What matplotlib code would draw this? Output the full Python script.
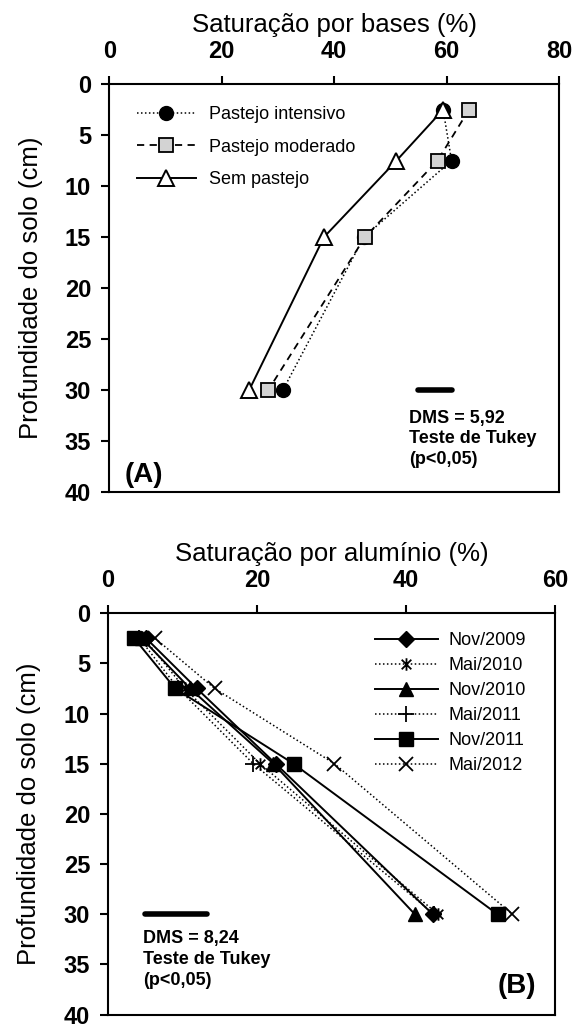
import numpy as np
import matplotlib
matplotlib.use('Agg')
from matplotlib import pyplot as plt
from matplotlib.path import Path

plt.rcParams['font.family'] = ['Liberation Sans', 'DejaVu Sans']

# profundidade (cm)
depth = [2.5, 7.5, 15, 30]

# (A) saturacao por bases (%)
bases_intensivo = [59.4, 60.9, 45.3, 30.9]
bases_moderado = [64.0, 58.4, 45.5, 28.3]
bases_sem = [59.4, 51.1, 38.2, 24.9]
dms_a = 5.92

# (B) saturacao por aluminio (%)
alum_labels = ['Nov/2009', 'Mai/2010', 'Nov/2010', 'Mai/2011', 'Nov/2011', 'Mai/2012']
al_nov2009 = [5.1, 11.9, 22.5, 43.6]
al_mai2010 = [4.8, 10.3, 20.4, 44.3]
al_nov2010 = [4.5, 11.0, 22.2, 41.2]
al_mai2011 = [4.2, 9.4, 19.5, 43.8]
al_nov2011 = [3.5, 9.0, 24.9, 52.3]
al_mai2012 = [6.3, 14.3, 30.4, 54.3]
dms_b = 8.24

yticks = np.arange(0, 45, 5)

# asterisco estilo Excel
star = Path([(-1, -1), (1, 1), (-1, 1), (1, -1), (0, -1.3), (0, 1.3)],
            [Path.MOVETO, Path.LINETO, Path.MOVETO, Path.LINETO, Path.MOVETO, Path.LINETO])

dot = (0, (1, 1.6))

fig = plt.figure(figsize=(5.78, 10.27), dpi=100)
ax1 = fig.add_axes([0.189, 0.521, 0.778, 0.397])
ax2 = fig.add_axes([0.187, 0.012, 0.773, 0.391])


def style_axis(ax, xmax, xstep, xlabel):
    ax.set_xlim(0, xmax)
    ax.set_ylim(40, 0)
    ax.set_xticks(np.arange(0, xmax + 1, xstep))
    ax.set_yticks(yticks)
    ax.xaxis.tick_top()
    ax.xaxis.set_label_position('top')
    ax.tick_params(direction='out', length=6, width=1.5, labelsize=17, pad=7)
    ax.tick_params(axis='x', pad=9)
    for lab in ax.get_xticklabels() + ax.get_yticklabels():
        lab.set_fontweight('bold')
    for s in ax.spines.values():
        s.set_linewidth(1.5)
    ax.set_xlabel(xlabel, fontsize=18.5, labelpad=6)
    ax.set_ylabel('Profundidade do solo (cm)', fontsize=18.5, labelpad=16)


# ---------- (A)
ax1.plot(bases_intensivo, depth, linestyle=dot, color='black', lw=1.1,
         marker='o', ms=10, mfc='black', mec='black', label='Pastejo intensivo')
ax1.plot(bases_moderado, depth, linestyle=(0, (4, 3)), color='black', lw=1.3,
         marker='s', ms=10, mfc='#d3d3d3', mec='black', mew=1.3, label='Pastejo moderado')
ax1.plot(bases_sem, depth, linestyle='-', color='black', lw=1.4,
         marker='^', ms=11.5, mfc='white', mec='black', mew=1.4, label='Sem pastejo')
style_axis(ax1, 80, 20, 'Saturação por bases (%)')
ax1.legend(loc='upper left', bbox_to_anchor=(0.061, 0.946), frameon=False,
           fontsize=13, handlelength=3.3, handletextpad=0.7, labelspacing=0.85,
           borderpad=0, borderaxespad=0)
ax1.plot([55, 55 + dms_a], [30, 30], color='black', lw=4, solid_capstyle='round')
ax1.text(53.4, 34.8, 'DMS = 5,92\nTeste de Tukey\n(p<0,05)', fontsize=13,
         fontweight='bold', ha='left', va='center', linespacing=1.3)
ax1.text(2.8, 38.3, '(A)', fontsize=20, fontweight='bold', ha='left', va='center')

# ---------- (B)
series = [al_nov2009, al_mai2010, al_nov2010, al_mai2011, al_nov2011, al_mai2012]
styles = [
    dict(linestyle='-', lw=1.4, marker='D', ms=8.5, mfc='black'),
    dict(linestyle=dot, lw=1.1, marker=star, ms=9, mfc='none', mew=1.3),
    dict(linestyle='-', lw=1.4, marker='^', ms=10.5, mfc='black'),
    dict(linestyle=dot, lw=1.1, marker='+', ms=11, mew=1.3),
    dict(linestyle='-', lw=1.4, marker='s', ms=10.5, mfc='black'),
    dict(linestyle=dot, lw=1.1, marker='x', ms=10, mew=1.3),
]
for vals, lab, st in zip(series, alum_labels, styles):
    ax2.plot(vals, depth, color='black', mec='black', label=lab, **st)
style_axis(ax2, 60, 20, 'Saturação por alumínio (%)')
ax2.legend(loc='upper left', bbox_to_anchor=(0.597, 0.952), frameon=False,
           fontsize=13, handlelength=3.5, handletextpad=0.6, labelspacing=0.44,
           borderpad=0, borderaxespad=0)
ax2.plot([5, 5 + dms_b], [30, 30], color='black', lw=4, solid_capstyle='round')
ax2.text(4.7, 34.5, 'DMS = 8,24\nTeste de Tukey\n(p<0,05)', fontsize=13,
         fontweight='bold', ha='left', va='center', linespacing=1.3)
ax2.text(57.5, 37.1, '(B)', fontsize=20, fontweight='bold', ha='right', va='center')

fig.savefig('out.png', dpi=100)
